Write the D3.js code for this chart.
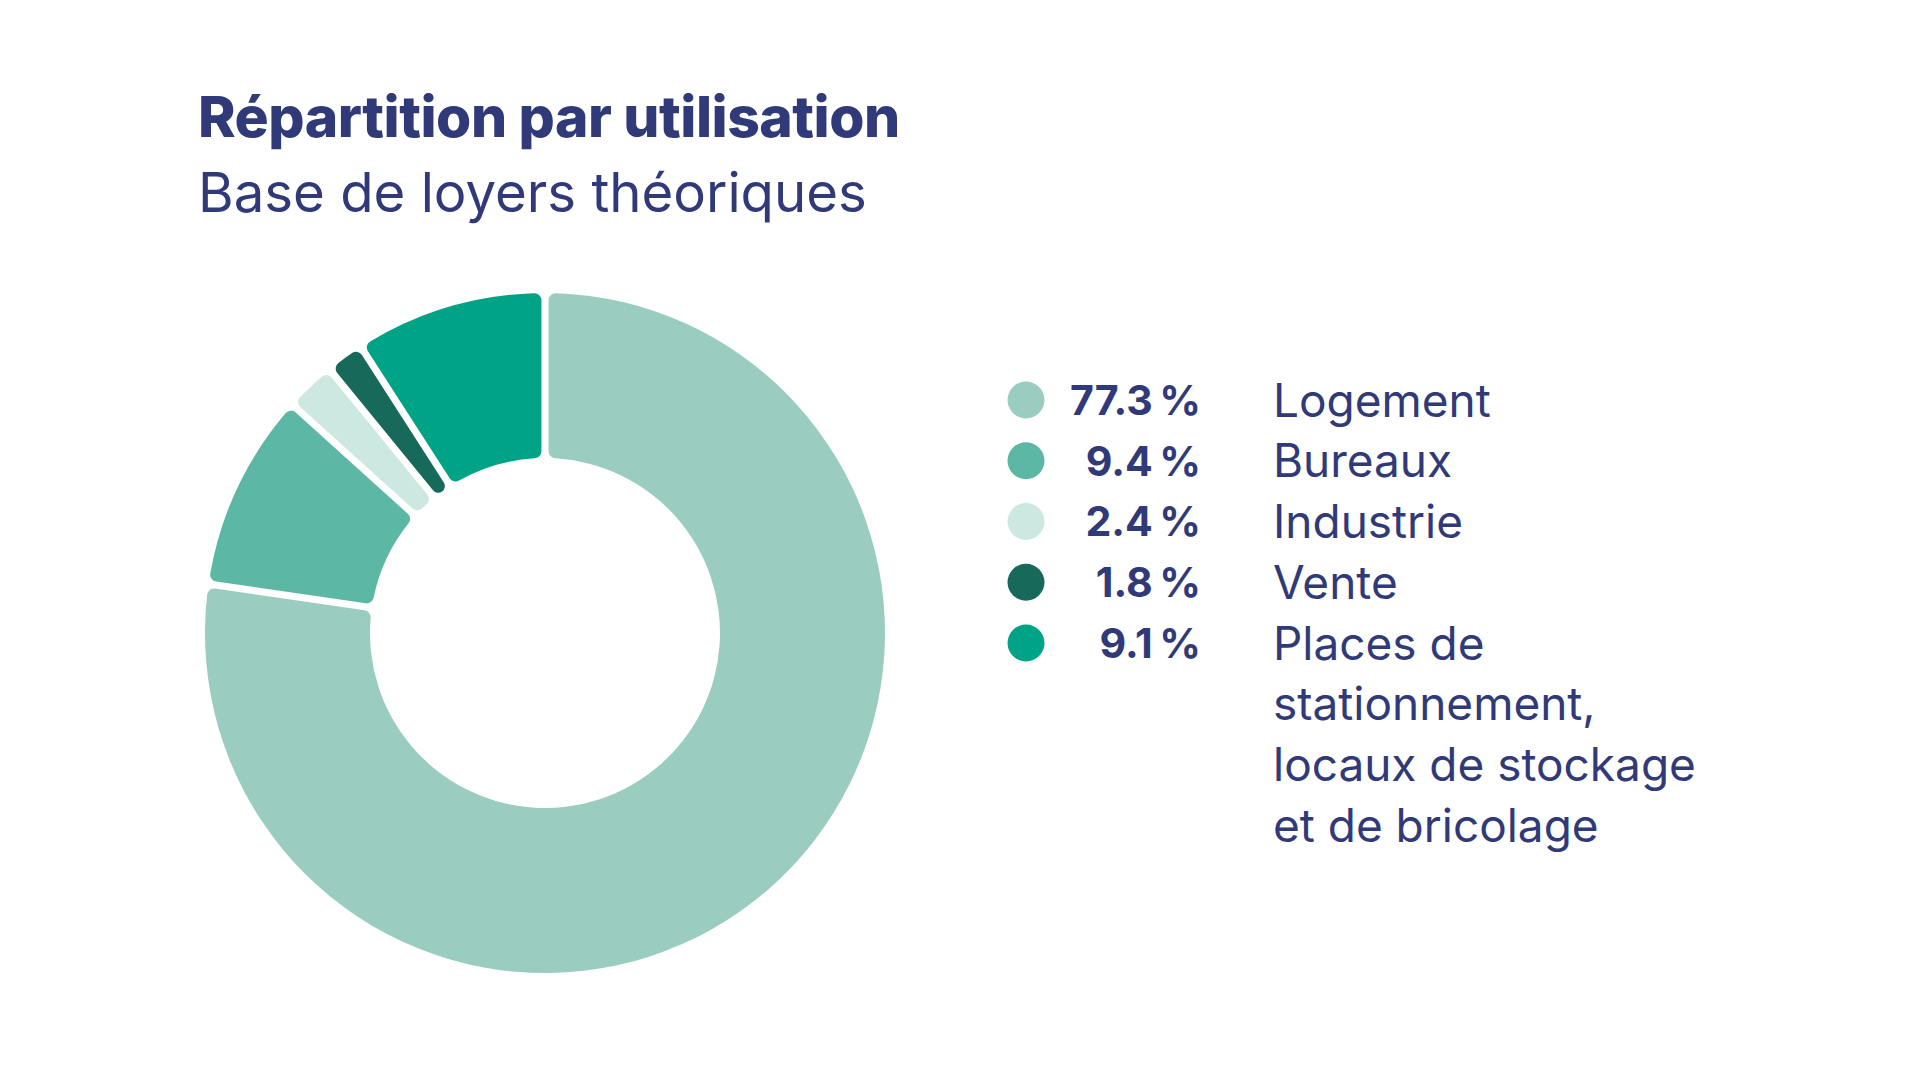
<!DOCTYPE html>
<html>
<head>
<meta charset="utf-8">
<script src="https://cdn.jsdelivr.net/npm/d3@7"></script>
<style>
  body { margin: 0; background: #fff; }
  text { font-family: Inter, "Noto Sans", sans-serif; fill: #313a78; }
</style>
</head>
<body>
<svg width="1920" height="1080"></svg>
<script>
var categories = ['Logement', 'Bureaux', 'Industrie', 'Vente', 'Places de stationnement, locaux de stockage et de bricolage'];
var labelLines = [['Logement'], ['Bureaux'], ['Industrie'], ['Vente'],
    ['Places de', 'stationnement,', 'locaux de stockage', 'et de bricolage']];
var shares = [77.3, 9.4, 2.4, 1.8, 9.1];
var colors = ['#9acdbf', '#5cb7a4', '#cde7e1', '#176a5a', '#00a385'];

var svg = d3.select('svg');

var center = {x: 545, y: 633};
var outerR = 340, innerR = 175;

var data = categories.map(function(c, i) {
  return {name: c, lines: labelLines[i], value: shares[i], color: colors[i]};
});

// size a text so it spans roughly the wanted width
function fitSize(sel, width) {
  var base = 40;
  sel.style('font-size', base + 'px');
  var w = sel.node().getComputedTextLength();
  var size = base * width / w;
  sel.style('font-size', size + 'px');
  return size;
}

// titles
var title = svg.append('text')
    .attr('x', 198)
    .attr('y', 137)
    .style('font-weight', 800)
    .style('letter-spacing', '-0.5px')
    .text('Répartition par utilisation');
fitSize(title, 696);

var subtitle = svg.append('text')
    .attr('x', 198)
    .attr('y', 212)
    .style('font-weight', 400)
    .text('Base de loyers théoriques');
fitSize(subtitle, 669);

// donut
var pie = d3.pie()
    .sort(null)
    .value(function(d) { return d.value; });

var arc = d3.arc()
    .innerRadius(innerR)
    .outerRadius(outerR)
    .padAngle(0.021)
    .padRadius(outerR)
    .cornerRadius(7);

var chartG = svg.append('g')
    .attr('transform', 'translate(' + [center.x, center.y] + ')');

chartG.selectAll('path')
    .data(pie(data))
    .enter()
    .append('path')
    .attr('d', arc)
    .attr('fill', function(d) { return d.data.color; });

// legend
var rowY = d3.scalePoint()
    .domain(d3.range(data.length))
    .range([400, 643]);

var probe = svg.append('text').style('font-weight', 700).text('77.3\u202f%');
var pctSize = fitSize(probe, 131);
probe.style('font-weight', 400).text('locaux de stockage');
var labelSize = fitSize(probe, 423);
probe.remove();

var legend = svg.append('g').attr('class', 'legend');

var rows = legend.selectAll('g')
    .data(data)
    .enter()
    .append('g')
    .attr('transform', function(d, i) { return 'translate(0,' + rowY(i) + ')'; });

rows.append('circle')
    .attr('cx', 1026)
    .attr('cy', 0)
    .attr('r', 18.5)
    .attr('fill', function(d) { return d.color; });

rows.append('text')
    .attr('x', 1201)
    .attr('y', 0)
    .attr('dy', '0.36em')
    .attr('text-anchor', 'end')
    .style('font-size', pctSize + 'px')
    .style('font-weight', 700)
    .text(function(d) { return d3.format('.1f')(d.value) + '\u202f%'; });

rows.append('text')
    .attr('x', 1273)
    .attr('y', 0)
    .style('font-size', labelSize + 'px')
    .selectAll('tspan')
    .data(function(d) { return d.lines; })
    .enter()
    .append('tspan')
    .attr('x', 1273)
    .attr('y', function(d, i) { return i * 60.7; })
    .attr('dy', '0.36em')
    .text(function(d) { return d; });
</script>
</body>
</html>
